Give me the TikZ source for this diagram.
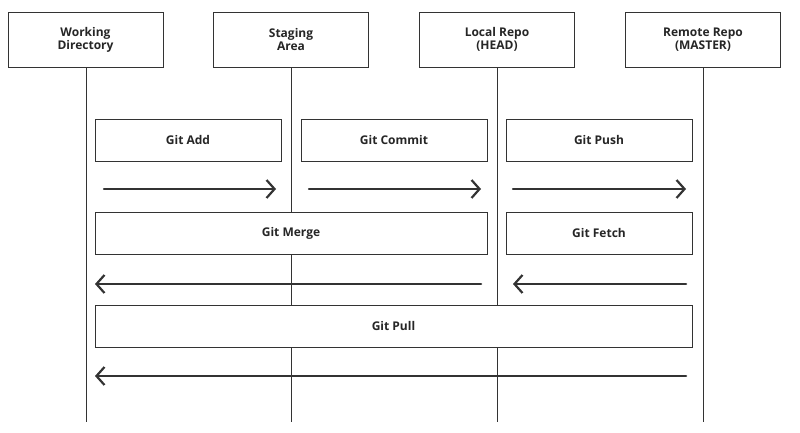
\documentclass[tikz,border=0pt]{standalone}
\usepackage{fontspec}
\setmainfont{Open Sans}
\usetikzlibrary{arrows.meta}
\begin{document}
\begin{tikzpicture}[x=1pt,y=-1pt,
  actor/.style={draw=black!80,line width=0.8pt,fill=white,minimum width=155pt,minimum height=55pt,align=center,font=\fontsize{12}{13}\selectfont\bfseries,text=black!85},
  cmd/.style={draw=black!80,line width=0.8pt,fill=white,minimum height=42pt,font=\fontsize{12}{13}\selectfont\bfseries,text=black!85},
  life/.style={black!80,line width=0.8pt},
  msg/.style={black!80,line width=2.5pt,line cap=round,-{Straight Barb[length=8pt,width=18pt,line width=2.2pt]}}]
\useasboundingbox (0,0) rectangle (800,433);
\foreach \n/\x in {wd/86,sa/291,lr/497,rr/703} {\coordinate (\n s) at (\x,60); \coordinate (\n e) at (\x,422);}
\foreach \n in {wd,sa,lr,rr} \draw[life] (\n s) -- (\n e);
\node[actor] (wd) at (85.5,39.5) {Working\\Directory};
\node[actor] (sa) at (291,39.5) {Staging\\Area};
\node[actor] (lr) at (497,39.5) {Local Repo\\(HEAD)};
\node[actor] (rr) at (703,39.5) {Remote Repo\\(MASTER)};
\node[cmd,minimum width=186pt] (add) at (188,140) {Git Add};
\node[cmd,minimum width=186pt] (commit) at (394,140) {Git Commit};
\node[cmd,minimum width=186pt] (push) at (599,140) {Git Push};
\node[cmd,minimum width=392pt] (merge) at (291,233) {Git Merge};
\node[cmd,minimum width=186pt] (fetch) at (599,233) {Git Fetch};
\node[cmd,minimum width=597pt] (pull) at (393.5,326) {Git Pull};
\coordinate (a1) at (104,189); \coordinate (a2) at (276,189);
\coordinate (b1) at (309,189); \coordinate (b2) at (481,189);
\coordinate (c1) at (513,189); \coordinate (c2) at (686,189);
\coordinate (d1) at (481,284); \coordinate (d2) at (95,284);
\coordinate (e1) at (686,284); \coordinate (e2) at (513,284);
\coordinate (f1) at (686,376); \coordinate (f2) at (95,376);
\draw[msg] (a1) -- (a2);
\draw[msg] (b1) -- (b2);
\draw[msg] (c1) -- (c2);
\draw[msg] (d1) -- (d2);
\draw[msg] (e1) -- (e2);
\draw[msg] (f1) -- (f2);
\end{tikzpicture}
\end{document}
